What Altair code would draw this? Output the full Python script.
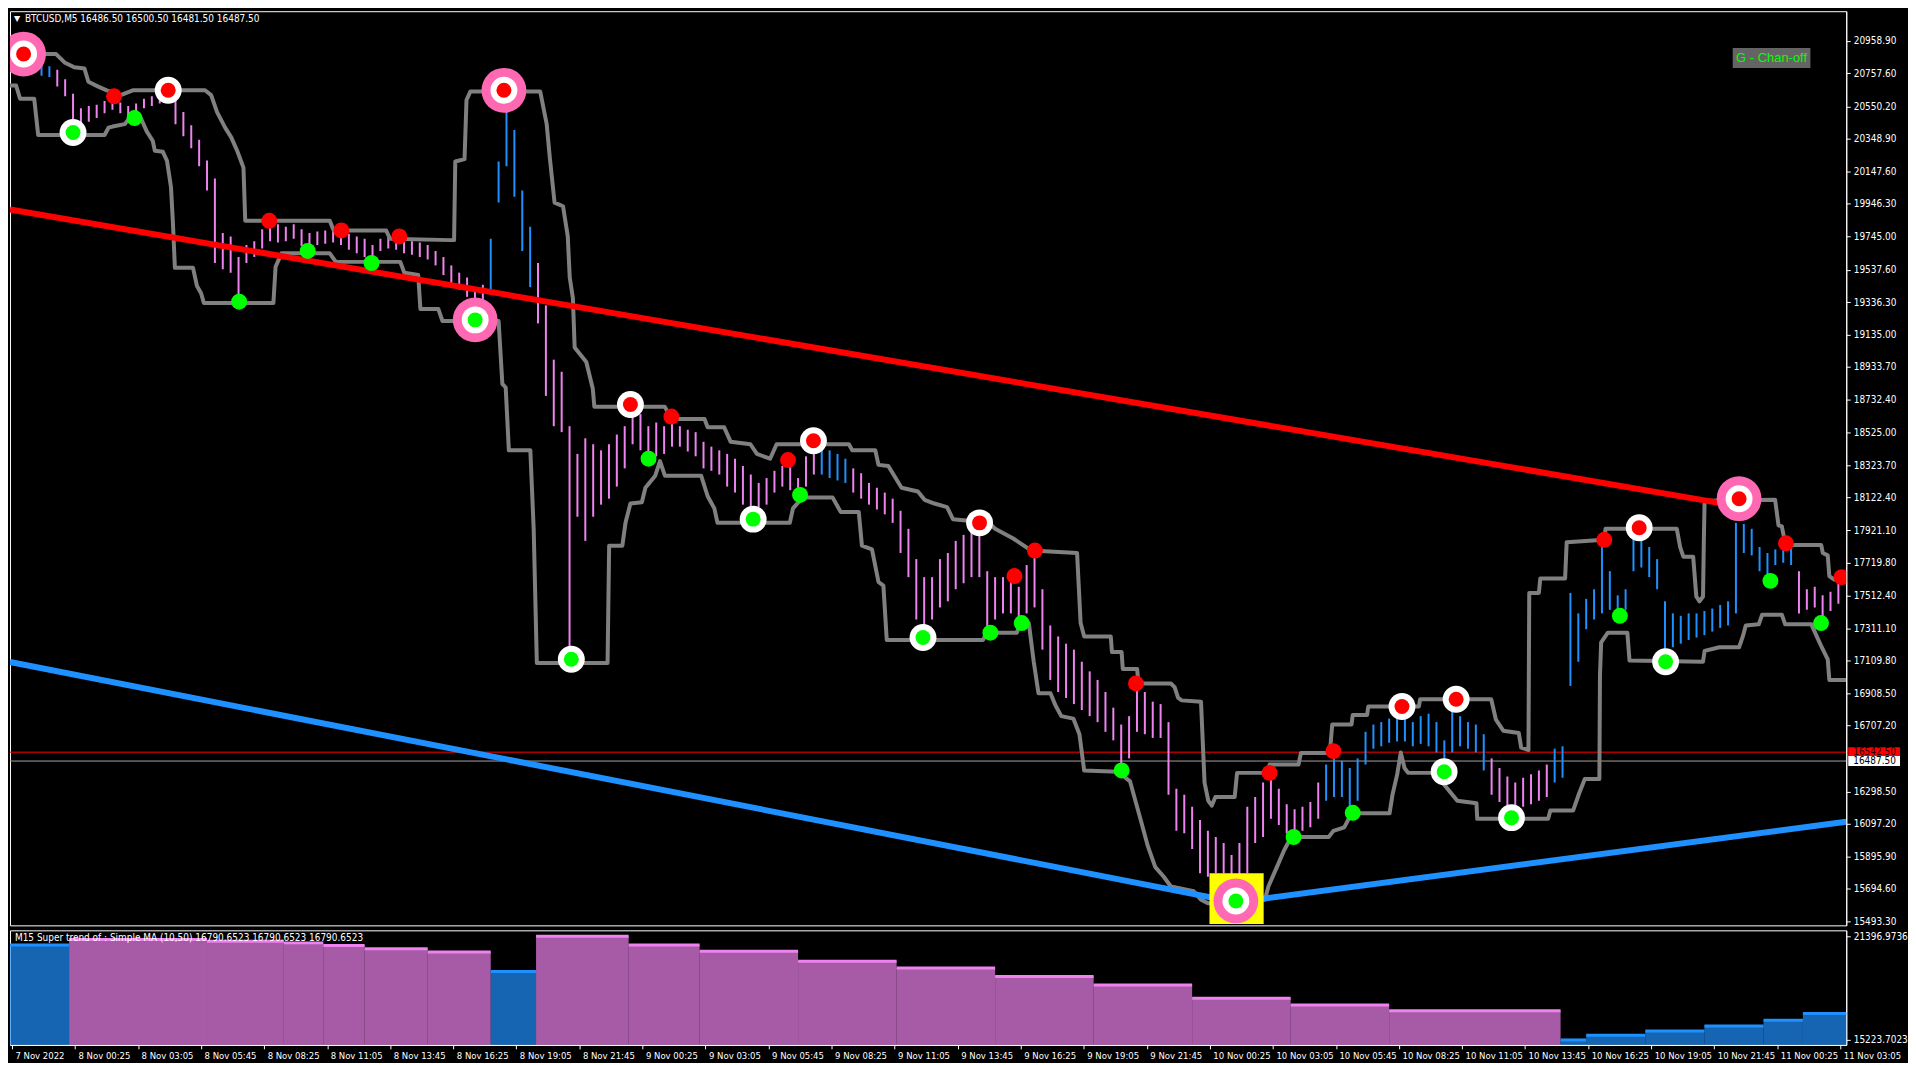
import altair as alt
import pandas as pd

# ---------------- data ----------------
GROUP = 4  # one drawn bar = 4 M5 bars
bar_high = [
    20869, 20884, 20876, 20854, 20816, 20801, 20779, 20719, 20629, 20539,
    20554, 20561, 20584, 20606, 20576, 20554, 20569, 20599, 20614, 20629,
    20651, 20614, 20516, 20434, 20344, 20216, 20104, 19766, 19744, 19616,
    19691, 19714, 19789, 19834, 19819, 19804, 19819, 19789, 19766, 19774,
    19781, 19789, 19789, 19759, 19744, 19729, 19691, 19729, 19744, 19744,
    19729, 19714, 19706, 19691, 19654, 19616, 19564, 19519, 19489, 19429,
    19444, 19729, 20209, 20591, 20404, 20029, 19804, 19579, 19316, 18979,
    18904, 18566, 18394, 18491, 18454, 18416, 18454, 18514, 18566, 18679,
    18641, 18566, 18589, 18566, 18604, 18566, 18544, 18529, 18469, 18439,
    18416, 18394, 18364, 18319, 18266, 18214, 18244, 18289, 18319, 18334,
    18244, 18379, 18476, 18439, 18416, 18394, 18364, 18304, 18274, 18214,
    18184, 18154, 18116, 18041, 17929, 17741, 17629, 17629, 17741, 17779,
    17854, 17891, 17929, 17959, 17666, 17629, 17629, 17644, 17569, 17704,
    17794, 17554, 17329, 17261, 17216, 17179, 17104, 17044, 16991, 16916,
    16819, 16714, 16766, 16954, 16916, 16856, 16841, 16729, 16316, 16279,
    16204, 16121, 16054, 16016, 15979, 15904, 15979, 16204, 16264, 16354,
    16414, 16316, 16219, 16189, 16204, 16234, 16354, 16466, 16519, 16489,
    16444, 16504, 16669, 16714, 16729, 16751, 16759, 16804, 16729, 16766,
    16781, 16729, 16616, 16819, 16766, 16729, 16714, 16654, 16504, 16444,
    16391, 16354, 16384, 16406, 16429, 16466, 16564, 16579, 17531, 17404,
    17494, 17554, 17816, 17666, 17516, 17554, 17876, 17914, 17816, 17741,
    17479, 17404, 17389, 17404, 17404, 17419, 17434, 17456, 17479, 17966,
    17959, 17929, 17816, 17779, 17801, 17831, 17809, 17666, 17554, 17569,
    17516, 17539, 17591,
]
bar_low = [
    20794, 20809, 20801, 20779, 20741, 20734, 20674, 20614, 20404, 20434,
    20456, 20479, 20509, 20531, 20509, 20479, 20494, 20539, 20554, 20569,
    20584, 20441, 20366, 20291, 20179, 20029, 19579, 19541, 19519, 19354,
    19579, 19616, 19669, 19714, 19706, 19714, 19729, 19684, 19669, 19691,
    19699, 19706, 19691, 19661, 19639, 19616, 19594, 19654, 19669, 19661,
    19639, 19631, 19616, 19601, 19564, 19504, 19444, 19414, 19369, 19294,
    19309, 19391, 19954, 20179, 19991, 19654, 19429, 19204, 18754, 18566,
    18529, 17141, 18004, 17854, 18004, 18079, 18116, 18191, 18304, 18454,
    18416, 18364, 18379, 18394, 18439, 18439, 18409, 18379, 18304, 18289,
    18266, 18191, 18154, 18079, 18004, 18064, 18079, 18154, 18191, 18169,
    18131, 18191, 18266, 18266, 18244, 18229, 18214, 18154, 18116, 18079,
    18049, 18019, 17966, 17779, 17629, 17366, 17269, 17366, 17441, 17479,
    17554, 17591, 17629, 17629, 17314, 17366, 17404, 17404, 17366, 17404,
    17441, 17179, 16991, 16916, 16879, 16841, 16804, 16766, 16729, 16669,
    16616, 16466, 16504, 16669, 16654, 16631, 16631, 16279, 16054, 16039,
    15941, 15791, 15769, 15791, 15791, 15754, 15769, 15791, 15979, 16016,
    16129, 16091, 16039, 16024, 16054, 16076, 16129, 16241, 16264, 16264,
    16189, 16241, 16466, 16564, 16579, 16601, 16609, 16609, 16579, 16594,
    16579, 16541, 16444, 16541, 16579, 16564, 16541, 16429, 16279, 16234,
    16181, 16189, 16204, 16219, 16241, 16264, 16354, 16384, 16954, 17104,
    17306, 17366, 17404, 17426, 17404, 17426, 17666, 17689, 17629, 17554,
    17141, 17194, 17216, 17239, 17254, 17269, 17291, 17314, 17329, 17404,
    17779, 17764, 17666, 17629, 17704, 17719, 17704, 17404, 17426, 17441,
    17366, 17419, 17464,
]
up_groups = [(4, 5), (61, 66), (103, 106), (167, 187), (196, 226)]

upper_bar = [0, 17.3, 23.4, 27.7, 32.6, 37.8, 39.8, 44.8, 49.1, 56.2, 62.3, 99.0, 102.1, 105.1,
             109.2, 112.3, 115.3, 118.5, 119.4, 162.3, 164.3, 190.9, 192.9, 223.5, 225.4, 226.0,
             230.7, 231.7, 233.7, 269.1, 272.4, 274.0, 276.4, 280.7, 283.1, 284.1, 285.7, 286.6,
             292.5, 295.8, 296.6, 332.4, 335.7, 352.5, 354.1, 362.5, 365.8, 375.8, 379.1, 385.8,
             389.1, 425.8, 427.5, 439.2, 440.8, 445.8, 452.5, 460.8, 464.2, 469.2, 475.6, 478.6,
             497.0, 500.0, 509.2, 518.4, 541.6, 543.4, 545.2, 558.7, 559.3, 564.2, 564.8, 572.1,
             572.7, 589.2, 591.1, 592.9, 594.7, 604.5, 606.3, 608.2, 610.0, 611.8, 621.6, 622.8,
             638.7, 639.3, 654.0, 655.2, 669.9, 671.1, 680.9, 681.5, 688.8, 689.4, 715.1, 715.7,
             751.8, 754.2, 757.9, 765.8, 767.0, 770.7, 771.1, 776.0, 776.7, 789.3, 790.1, 809.2,
             809.8, 846.0, 847.7, 849.3, 854.3, 855.9, 857.5, 859.3, 859.7, 860.1, 895.9, 897.6,
             899.3, 901.0, 904.3, 919.3, 920.1, 922.6, 923.4, 925.9, 932.0]
upper_price = [20884, 20876, 20876, 20824, 20794, 20786, 20704, 20674, 20651, 20621, 20651, 20651,
               20621, 20516, 20419, 20359, 20276, 20171, 19841, 19841, 19781, 19781, 19729, 19721,
               19721, 20209, 20224, 20591, 20644, 20644, 20441, 20231, 19954, 19931, 19744, 19489,
               19361, 19054, 18964, 18799, 18686, 18686, 18611, 18611, 18559, 18559, 18469, 18454,
               18394, 18364, 18454, 18454, 18416, 18416, 18326, 18319, 18184, 18161, 18109, 18086,
               18064, 17989, 17966, 17929, 17869, 17794, 17779, 17344, 17261, 17261, 17164, 17164,
               17059, 17059, 16969, 16969, 16946, 16879, 16864, 16856, 16354, 16241, 16211, 16264,
               16264, 16414, 16414, 16466, 16466, 16538, 16538, 16714, 16714, 16774, 16774, 16826,
               16826, 16871, 16871, 16744, 16676, 16661, 16571, 16556, 17531, 17531, 17621, 17621,
               17846, 17861, 17929, 17929, 17816, 17756, 17756, 17509, 17479, 17509, 17846, 18104,
               18109, 17951, 17944, 17839, 17828, 17828, 17779, 17764, 17636, 17614, 17614]
lower_bar = [0, 3.1, 5.1, 12.3, 14.3, 48.0, 50.0, 52.1, 58.2, 60.2, 66.4, 69.4, 72.5, 73.5, 77.6,
             79.7, 81.7, 82.7, 83.7, 92.9, 94.9, 97.0, 98.4, 133.7, 134.8, 137.8, 162.3, 165.4,
             198.1, 200.1, 207.2, 208.3, 217.4, 219.5, 248.0, 249.9, 251.6, 253.2, 264.1, 265.8,
             267.4, 303.3, 304.1, 310.8, 312.4, 314.9, 320.7, 322.5, 327.5, 329.9, 332.4, 350.8,
             354.1, 357.5, 359.1, 395.8, 397.4, 402.4, 417.5, 421.6, 430.8, 432.4, 437.5, 440.8,
             443.3, 445.0, 493.9, 495.7, 511.0, 512.9, 517.1, 519.6, 522.0, 528.1, 530.6, 533.6,
             539.7, 542.8, 545.2, 562.3, 568.5, 573.9, 577.6, 581.3, 585.6, 589.2, 600.8, 604.5,
             608.2, 636.9, 638.7, 643.0, 646.7, 650.3, 669.3, 671.7, 677.2, 680.9, 700.2, 701.7,
             704.1, 705.9, 707.8, 709.6, 723.0, 734.6, 744.3, 744.7, 780.7, 781.8, 793.4, 796.4,
             799.3, 806.7, 807.0, 807.6, 811.0, 820.9, 822.0, 859.3, 860.1, 867.6, 877.6, 879.5,
             881.0, 887.6, 889.3, 899.3, 901.0, 914.3, 917.6, 919.3, 922.6, 923.4, 932.0]
lower_price = [20681, 20681, 20599, 20599, 20374, 20374, 20419, 20426, 20441, 20471, 20479, 20396,
               20336, 20276, 20269, 20213, 20051, 19826, 19549, 19549, 19436, 19391, 19331, 19331,
               19556, 19639, 19639, 19586, 19586, 19519, 19504, 19294, 19294, 19219, 19219, 18829,
               18806, 18416, 18416, 17929, 17096, 17096, 17824, 17824, 17966, 18086, 18094, 18184,
               18259, 18349, 18259, 18259, 18131, 18056, 17966, 17966, 18056, 18124, 18124, 18034,
               18034, 17824, 17801, 17599, 17576, 17239, 17239, 17284, 17284, 17344, 17344, 17104,
               16909, 16909, 16834, 16766, 16751, 16654, 16429, 16421, 16361, 16121, 15956, 15829,
               15769, 15709, 15679, 15626, 15604, 15626, 15709, 15829, 15934, 16016, 16016, 16054,
               16076, 16163, 16163, 16279, 16406, 16541, 16444, 16414, 16414, 16241, 16226, 16129,
               16129, 16181, 16181, 16286, 16376, 16376, 17021, 17224, 17284, 17284, 17111, 17104,
               17171, 17194, 17194, 17261, 17329, 17336, 17396, 17396, 17336, 17336, 17246, 17201,
               17119, 16991, 16991]

red_line_bar = [0, 877]
red_line_price = [19911, 18070]
blue_line_bar = [0, 622, 932]
blue_line_price = [17102, 15611, 16111]

big_bar = [6.9, 250.7, 236.1, 877.6, 622.2]
big_price = [20876, 20651, 19226, 18116, 15619]
big_kind = ["sell", "sell", "buy", "sell", "buy"]

ring_bar = [80.3, 314.9, 407.8, 492.1, 706.5, 734.0, 826.9,
            32.0, 284.9, 377.2, 463.4, 727.9, 762.1, 840.3]
ring_price = [20651, 18701, 18476, 17966, 16826, 16871, 17936,
              20389, 17119, 17989, 17254, 16421, 16136, 17104]
ring_kind = ["sell"] * 7 + ["buy"] * 7

dot_bar = [52.8, 131.6, 168.2, 197.6, 335.7, 394.9, 509.8, 520.2, 571.5, 639.3, 671.7, 809.2, 901.4, 929.6,
           63.2, 116.3, 151.1, 183.5, 324.1, 401.0, 497.6, 513.5, 564.2, 651.5, 681.5, 817.1, 893.5, 919.2]
dot_price = [20614, 19841, 19781, 19744, 18626, 18356, 17636, 17794, 16969, 16414, 16549, 17861, 17839, 17629,
             20479, 19339, 19654, 19579, 18364, 18139, 17284, 17344, 16429, 16016, 16166, 17389, 17606, 17344]
dot_kind = ["sell"] * 14 + ["buy"] * 14

box_bar = [608.8, 636.3]
box_price = [15476, 15791]

ask_price = 16542.50
bid_price = 16487.50

hist_start = [0, 30, 100, 139, 159, 180, 212, 244, 267, 314, 350, 400, 450, 500, 550, 600, 650, 700, 787, 800, 830, 860, 890, 910]
hist_end = [30, 100, 139, 159, 180, 212, 244, 267, 314, 350, 400, 450, 500, 550, 600, 650, 700, 787, 800, 830, 860, 890, 910, 932]
hist_value = [20870, 21200, 21100, 21000, 20850, 20650, 20450, 19300, 21396.9736, 20870, 20500, 19900, 19500,
              19000, 18500, 17700, 17300, 16960, 15223.7023, 15500, 15750, 16050, 16400, 16790.6523]
hist_trend = ["up", "down", "down", "down", "down", "down", "down", "up", "down", "down", "down", "down", "down",
              "down", "down", "down", "down", "down", "up", "up", "up", "up", "up", "up"]

y_tick_values = [20958.90, 20757.60, 20550.20, 20348.90, 20147.60, 19946.30, 19745.00, 19537.60,
                 19336.30, 19135.00, 18933.70, 18732.40, 18525.00, 18323.70, 18122.40, 17921.10,
                 17719.80, 17512.40, 17311.10, 17109.80, 16908.50, 16707.20, 16298.50, 16097.20,
                 15895.90, 15694.60, 15493.30]
sub_tick_values = [15223.7023, 21396.9736]
x_tick_labels = ["7 Nov 2022", "8 Nov 00:25", "8 Nov 03:05", "8 Nov 05:45", "8 Nov 08:25", "8 Nov 11:05",
                 "8 Nov 13:45", "8 Nov 16:25", "8 Nov 19:05", "8 Nov 21:45", "9 Nov 00:25", "9 Nov 03:05",
                 "9 Nov 05:45", "9 Nov 08:25", "9 Nov 11:05", "9 Nov 13:45", "9 Nov 16:25", "9 Nov 19:05",
                 "9 Nov 21:45", "10 Nov 00:25", "10 Nov 03:05", "10 Nov 05:45", "10 Nov 08:25",
                 "10 Nov 11:05", "10 Nov 13:45", "10 Nov 16:25", "10 Nov 19:05", "10 Nov 21:45",
                 "11 Nov 00:25", "11 Nov 03:05"]
x_tick_bars = [1 + 32 * k for k in range(len(x_tick_labels))]

header_text = "BTCUSD,M5  16486.50 16500.50 16481.50 16487.50"
sub_text = "M15  Super trend of :  Simple MA (10,50)  16790.6523 16790.6523 16790.6523"
chan_text = "G - Chan-off"

# ---------------- layout / style ----------------
W, H1, H2 = 1844, 918, 115
X_DOMAIN = [0, 932]
Y_DOMAIN = [15467.5, 21142.0]
SUB_DOMAIN = [14932.0, 21746.0]
FONT = "Liberation Sans Narrow, DejaVu Sans Condensed, Liberation Sans, sans-serif"
VIOLET = "#EE82EE"
DBLUE = "#1E90FF"
RED = "#FF0000"
LIME = "#00FF00"

xs = alt.Scale(domain=X_DOMAIN, nice=False, zero=False)
ys = alt.Scale(domain=Y_DOMAIN, nice=False, zero=False)
ss = alt.Scale(domain=SUB_DOMAIN, nice=False, zero=False)

axis_common = dict(labelColor="white", labelFont=FONT, tickColor="white",
                   tickSize=4, domainColor="white", grid=False, title=None, labelOverlap=False)
y_axis = alt.Axis(orient="right", values=y_tick_values, format=".2f", labelPadding=3, labelFontSize=10,
                  **axis_common)
sub_axis = alt.Axis(orient="right", values=sub_tick_values, format=".4f", labelPadding=3, labelFontSize=10,
                    **axis_common)
label_expr = "[" + ",".join("'%s'" % s for s in x_tick_labels) + "][round((datum.value - 1) / 32)]"
x_axis = alt.Axis(orient="bottom", values=x_tick_bars, labelExpr=label_expr, labelAlign="left",
                  labelOffset=3, labelPadding=2, labelBound=False, labelFlush=False, labelFontSize=9.5,
                  **axis_common)


def X(f):
    return alt.X(f, type="quantitative", scale=xs, axis=None)


def Y(f):
    return alt.Y(f, type="quantitative", scale=ys, axis=y_axis)


def SX(f):
    return alt.X(f, type="quantitative", scale=xs, axis=x_axis)


def SY(f):
    return alt.Y(f, type="quantitative", scale=ss, axis=sub_axis)


# ---------------- tables ----------------
trend = []
for g in range(len(bar_high)):
    trend.append("up" if any(a <= g <= b for a, b in up_groups) else "down")
bars_df = pd.DataFrame({"bar": [GROUP * g for g in range(len(bar_high))],
                        "high": bar_high, "low": bar_low, "trend": trend})
ch_df = pd.concat([
    pd.DataFrame({"bar": upper_bar, "price": upper_price, "line": "upper", "o": range(len(upper_bar))}),
    pd.DataFrame({"bar": lower_bar, "price": lower_price, "line": "lower", "o": range(len(lower_bar))}),
])
red_df = pd.DataFrame({"bar": red_line_bar, "price": red_line_price})
blue_df = pd.DataFrame({"bar": blue_line_bar, "price": blue_line_price})
big_df = pd.DataFrame({"bar": big_bar, "price": big_price, "kind": big_kind})
ring_df = pd.DataFrame({"bar": ring_bar + big_bar, "price": ring_price + big_price, "kind": ring_kind + big_kind})
dot_df = pd.DataFrame({"bar": dot_bar, "price": dot_price, "kind": dot_kind})
box_df = pd.DataFrame({"b0": [box_bar[0]], "b1": [box_bar[1]], "p0": [box_price[0]], "p1": [box_price[1]]})
half = 5.0 * (Y_DOMAIN[1] - Y_DOMAIN[0]) / H1
ask_df = pd.DataFrame({"price": [ask_price], "label": ["%.2f" % ask_price]})
bid_df = pd.DataFrame({"price": [bid_price], "label": ["%.2f" % bid_price]})
for d in (ask_df, bid_df):
    d["top"] = d["price"] + half
    d["bot"] = d["price"] - half
hist_df = pd.DataFrame({"start": hist_start, "end": hist_end, "value": hist_value, "trend": hist_trend})

# ---------------- top panel ----------------
ask_line = alt.Chart(ask_df).mark_rule(strokeWidth=1, color=RED, clip=True).encode(y=Y("price"))
bid_line = alt.Chart(bid_df).mark_rule(strokeWidth=1, color="#A0A0A0", clip=True).encode(y=Y("price"))
bars_dn = alt.Chart(bars_df[bars_df.trend == "down"]).mark_rule(strokeWidth=2, color=VIOLET, clip=True).encode(
    x=X("bar"), y=Y("high"), y2="low:Q")
bars_up = alt.Chart(bars_df[bars_df.trend == "up"]).mark_rule(strokeWidth=2, color=DBLUE, clip=True).encode(
    x=X("bar"), y=Y("high"), y2="low:Q")
channel = alt.Chart(ch_df).mark_line(color="#808080", strokeWidth=4, strokeJoin="round", clip=True).encode(
    x=X("bar"), y=Y("price"), detail="line:N", order="o:Q")
red_tl = alt.Chart(red_df).mark_line(strokeWidth=6, color=RED, clip=True).encode(x=X("bar"), y=Y("price"))
blue_tl = alt.Chart(blue_df).mark_line(strokeWidth=6, color=DBLUE, clip=True).encode(x=X("bar"), y=Y("price"))
ybox = alt.Chart(box_df).mark_rect(color="#FFFF00", clip=True).encode(x=X("b0"), x2="b1:Q", y=Y("p1"), y2="p0:Q")


def pts(df, size, color):
    return alt.Chart(df).mark_point(shape="circle", filled=True, size=size, color=color,
                                    opacity=1, strokeWidth=0, clip=True).encode(x=X("bar"), y=Y("price"))


pink = pts(big_df, 2025, "#FF69B4")
white = pts(ring_df, 729, "#FFFFFF")
inner_s = pts(ring_df[ring_df.kind == "sell"], 225, RED)
inner_b = pts(ring_df[ring_df.kind == "buy"], 225, LIME)
dots_s = pts(dot_df[dot_df.kind == "sell"], 256, RED)
dots_b = pts(dot_df[dot_df.kind == "buy"], 256, LIME)

ask_box = alt.Chart(ask_df).mark_rect(color=RED).encode(
    x=alt.value(W + 2), x2=alt.value(W + 54), y=Y("top"), y2="bot:Q")
bid_box = alt.Chart(bid_df).mark_rect(color="#FFFFFF").encode(
    x=alt.value(W + 2), x2=alt.value(W + 54), y=Y("top"), y2="bot:Q")
ask_txt = alt.Chart(ask_df).mark_text(align="left", baseline="middle", font=FONT, fontSize=10,
                                      color="#300000").encode(x=alt.value(W + 7), y=Y("price"), text="label:N")
bid_txt = alt.Chart(bid_df).mark_text(align="left", baseline="middle", font=FONT, fontSize=10,
                                      color="#000000").encode(x=alt.value(W + 7), y=Y("price"), text="label:N")

tri = alt.Chart(pd.DataFrame({"t": ["\u25bc"]})).mark_text(
    align="left", baseline="middle", fontSize=8, color="white", font="DejaVu Sans").encode(
    x=alt.value(4), y=alt.value(8), text="t:N")
header = alt.Chart(pd.DataFrame({"t": [header_text]})).mark_text(
    align="left", baseline="middle", font=FONT, fontSize=10, color="white").encode(
    x=alt.value(15), y=alt.value(8), text="t:N")
chan_box = alt.Chart(pd.DataFrame({"t": [chan_text]})).mark_rect(color="#646464").encode(
    x=alt.value(W - 114), x2=alt.value(W - 36), y=alt.value(37), y2=alt.value(57))
chan_lbl = alt.Chart(pd.DataFrame({"t": [chan_text]})).mark_text(
    align="center", baseline="middle", font="Liberation Sans", fontSize=13, color=LIME).encode(
    x=alt.value(W - 75), y=alt.value(47.5), text="t:N")

top = alt.layer(ask_line, bid_line, bars_dn, bars_up, channel, red_tl, blue_tl, ybox,
                pink, white, inner_s, inner_b, dots_s, dots_b,
                ask_box, bid_box, ask_txt, bid_txt, tri, header, chan_box, chan_lbl
                ).properties(width=W, height=H1)

# ---------------- lower panel ----------------
h_dn = hist_df[hist_df.trend == "down"]
h_up = hist_df[hist_df.trend == "up"]
fill_dn = alt.Chart(h_dn).mark_rect(opacity=0.7, color=VIOLET).encode(
    x=SX("start"), x2="end:Q", y=SY("value"), y2=alt.value(H2))
fill_up = alt.Chart(h_up).mark_rect(opacity=0.7, color=DBLUE).encode(
    x=SX("start"), x2="end:Q", y=SY("value"), y2=alt.value(H2))
top_dn = alt.Chart(h_dn).mark_rule(strokeWidth=3, color=VIOLET).encode(x=SX("start"), x2="end:Q", y=SY("value"))
top_up = alt.Chart(h_up).mark_rule(strokeWidth=3, color=DBLUE).encode(x=SX("start"), x2="end:Q", y=SY("value"))
sub_lbl = alt.Chart(pd.DataFrame({"t": [sub_text]})).mark_text(
    align="left", baseline="middle", font=FONT, fontSize=10, color="white").encode(
    x=alt.value(5), y=alt.value(8), text="t:N")
bottom = alt.layer(fill_dn, fill_up, top_dn, top_up, sub_lbl).properties(width=W, height=H2)

chart = alt.vconcat(top, bottom, spacing=2).properties(
    padding={"left": 0, "top": 0, "right": 0, "bottom": 0}, background="#000000"
).configure_view(stroke="#FFFFFF", strokeWidth=1, fill="#000000")

chart.save("out.html", embed_options={"renderer": "svg", "actions": False})
